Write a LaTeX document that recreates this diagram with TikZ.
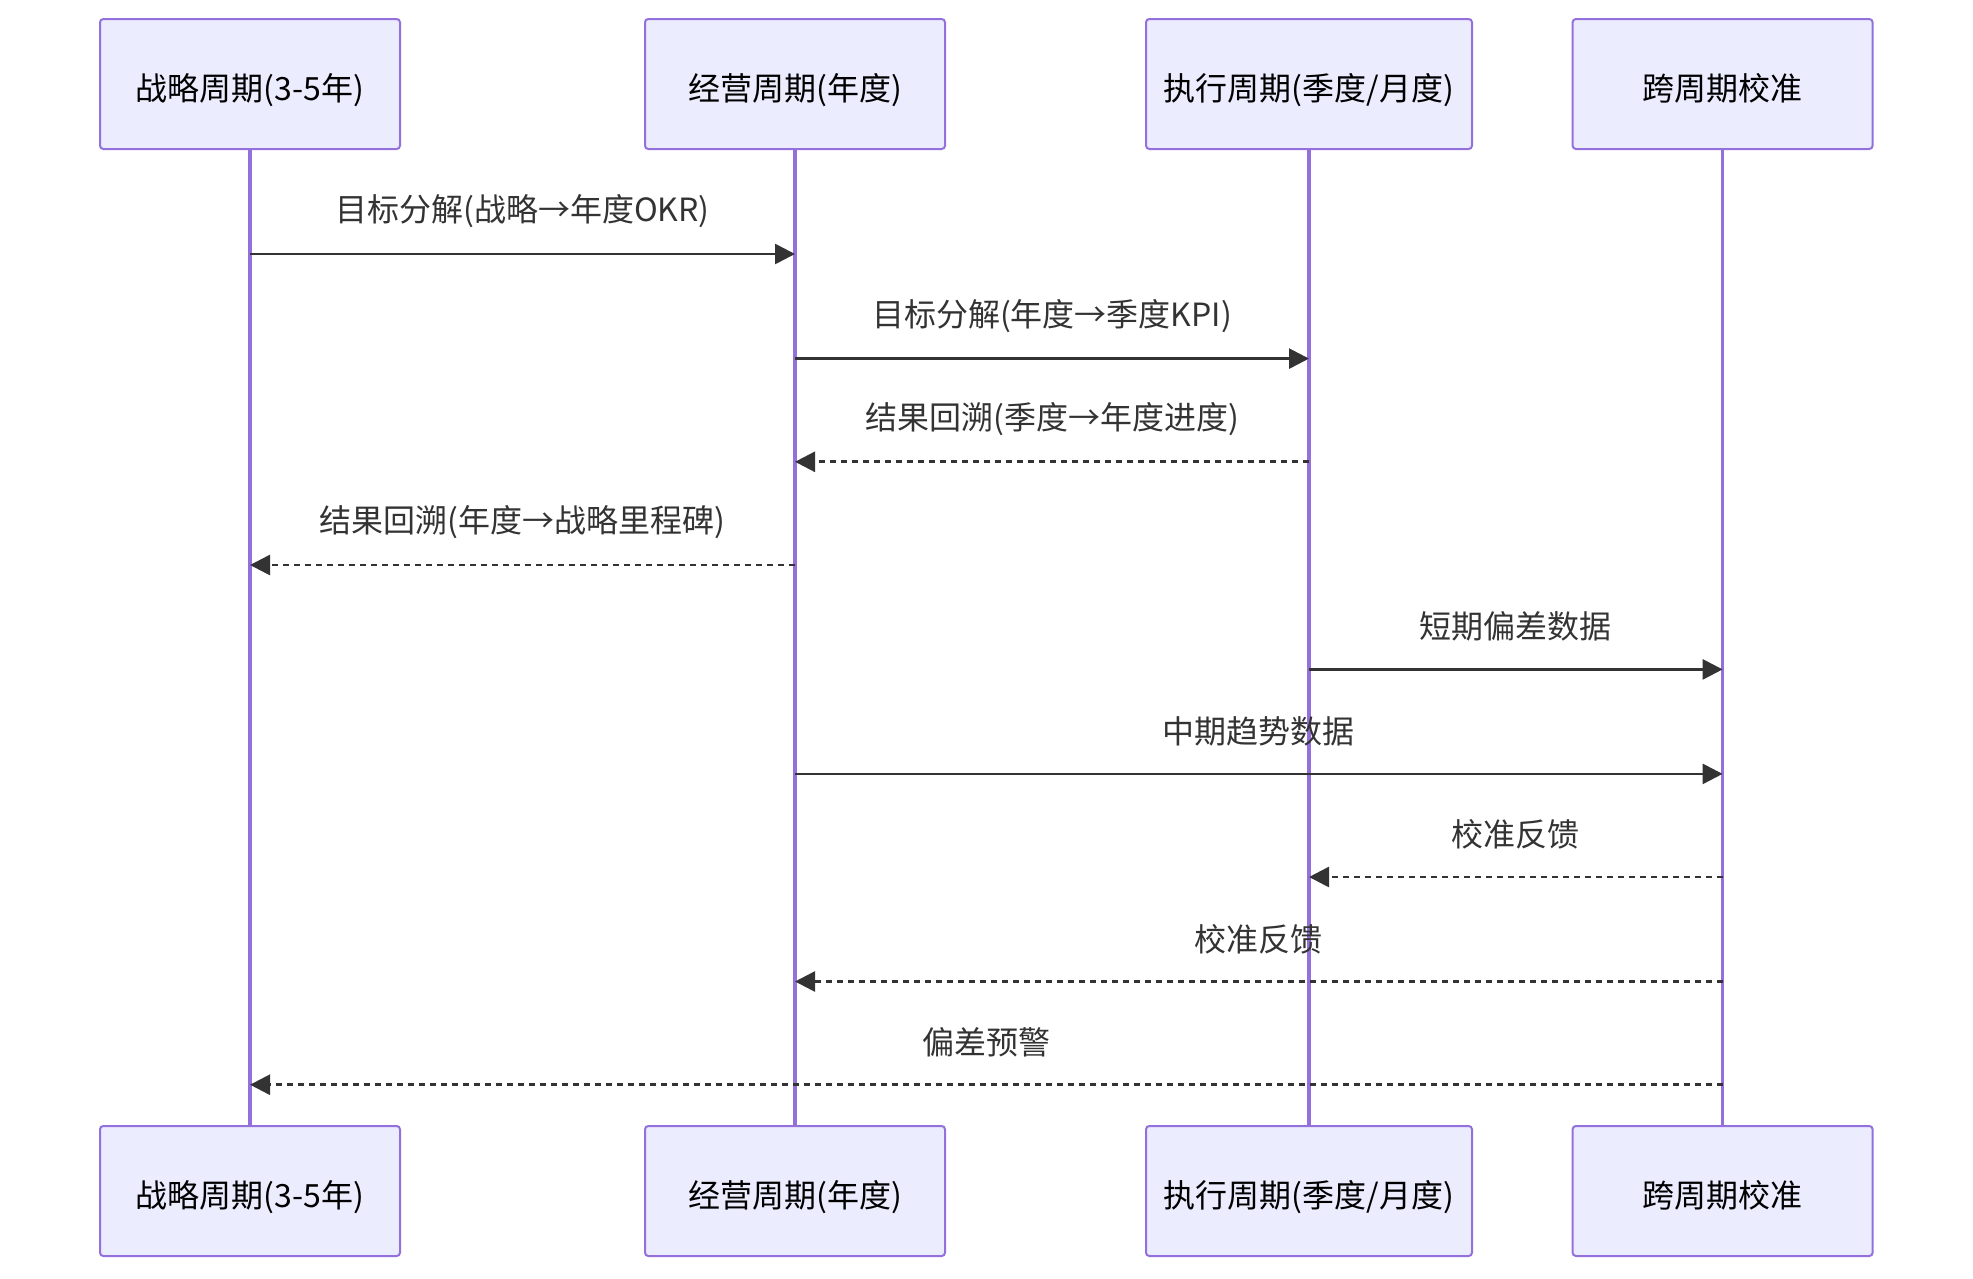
\documentclass[tikz,border=0pt]{standalone}
\usepackage{fontspec}
\setmainfont{Noto Sans CJK SC}
\usetikzlibrary{arrows.meta}
\definecolor{actorfill}{HTML}{ECECFF}
\definecolor{actorline}{HTML}{9370DB}
\definecolor{msgline}{HTML}{333333}
\tikzset{
  actor/.style={draw=actorline, fill=actorfill, line width=1.5pt, rounded corners=2.5pt,
    minimum width=225pt, minimum height=97.5pt, inner sep=0pt,
    text height=24pt, text depth=0pt,
    font=\fontsize{24}{28}\selectfont, text=black},
  lifeline/.style={draw=actorline, line width=2.4pt},
  msg/.style={draw=msgline, line width=2pt, -{Triangle[length=15pt,width=15pt]}},
  reply/.style={msg, dash pattern=on 4.5pt off 3.75pt},
  msglabel/.style={font=\fontsize{24}{28}\selectfont, text=msgline, yshift=32pt},
}
\begin{document}
\begin{tikzpicture}[x=0.75pt, y=-0.75pt]
  \useasboundingbox (0,0) rectangle (1973,1278);
  % participantes, arriba y abajo
  \foreach \n/\x/\w/\txt in {1/250/225pt/{战略周期(3-5年)}, 2/795/225pt/{经营周期(年度)},
      3/1309/244.5pt/{执行周期(季度/月度)}, 4/1722.6/225pt/{跨周期校准}} {
    \node[actor, minimum width=\w] (p\n) at (\x,84) {\txt};
    \node[actor, minimum width=\w] (q\n) at (\x,1191) {\txt};
    \draw[lifeline] (p\n) -- (q\n);
  }
  % mensajes
  \foreach \from/\to/\y/\sty/\txt in {
      1/2/254/msg/{目标分解(战略→年度OKR)},
      2/3/358.6/msg/{目标分解(年度→季度KPI)},
      3/2/461.8/reply/{结果回溯(季度→年度进度)},
      2/1/565/reply/{结果回溯(年度→战略里程碑)},
      3/4/669.4/msg/{短期偏差数据},
      2/4/773.9/msg/{中期趋势数据},
      4/3/877/reply/{校准反馈},
      4/2/981.5/reply/{校准反馈},
      4/1/1084.7/reply/{偏差预警}} {
    \draw[\sty] (p\from |- 0,\y) -- (p\to |- 0,\y)
      node[msglabel, midway] {\txt};
  }
\end{tikzpicture}
\end{document}
